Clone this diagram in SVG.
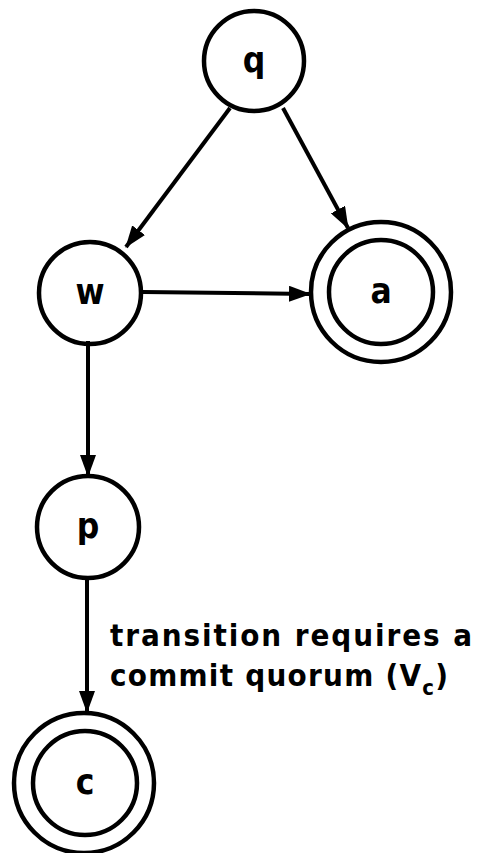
<svg xmlns="http://www.w3.org/2000/svg" width="480" height="853" viewBox="0 0 480 853">
  <style>
    .ring { fill: none; stroke: #000; stroke-width: 4.5; }
    .edge { fill: none; stroke: #000; stroke-width: 4; }
    .lbl { font-family: "DejaVu Sans Condensed", "DejaVu Sans", "Liberation Sans", sans-serif; font-weight: bold; font-size: 35px; fill: #000; text-anchor: middle; }
    .note { font-family: "DejaVu Sans Condensed", "DejaVu Sans", "Liberation Sans", sans-serif; font-weight: bold; font-size: 31px; fill: #000; }
  </style>
  <defs>
    <marker id="arrow" viewBox="0 0 22 16" refX="21" refY="8" markerWidth="22" markerHeight="16" markerUnits="userSpaceOnUse" orient="auto">
      <path d="M0,0 L22,8 L0,16 Z" fill="#000"/>
    </marker>
  </defs>
  <rect width="480" height="853" fill="#fff"/>

  <g id="connectors">
    <line class="edge" x1="230" y1="108" x2="126" y2="247" marker-end="url(#arrow)"/>
    <line class="edge" x1="283" y1="108" x2="348" y2="228" marker-end="url(#arrow)"/>
    <line class="edge" x1="143" y1="292" x2="310" y2="294" marker-end="url(#arrow)"/>
    <line class="edge" x1="88" y1="341" x2="88" y2="476" marker-end="url(#arrow)"/>
    <line class="edge" x1="87" y1="579" x2="87" y2="712" marker-end="url(#arrow)"/>
    <g id="edge-label">
      <text class="note" x="110" y="646" textLength="362" lengthAdjust="spacing">transition requires a</text>
      <text class="note" x="110" y="686" textLength="338" lengthAdjust="spacing">commit quorum (V<tspan font-size="22px" dy="9">c</tspan><tspan dy="-9">)</tspan></text>
    </g>
  </g>

  <g id="node-q">
    <circle class="ring" cx="254" cy="61" r="50"/>
    <text class="lbl" x="254" y="72">q</text>
  </g>
  <g id="node-w">
    <circle class="ring" cx="90" cy="293" r="51"/>
    <text class="lbl" x="90" y="304">w</text>
  </g>
  <g id="node-a">
    <circle class="ring" cx="381" cy="292" r="70"/>
    <circle class="ring" cx="381" cy="292" r="52"/>
    <text class="lbl" x="381" y="303">a</text>
  </g>
  <g id="node-p">
    <circle class="ring" cx="88" cy="527" r="51"/>
    <text class="lbl" x="88" y="538">p</text>
  </g>
  <g id="node-c">
    <circle class="ring" cx="84" cy="783" r="70"/>
    <circle class="ring" cx="85" cy="783" r="52"/>
    <text class="lbl" x="85" y="794">c</text>
  </g>
</svg>
